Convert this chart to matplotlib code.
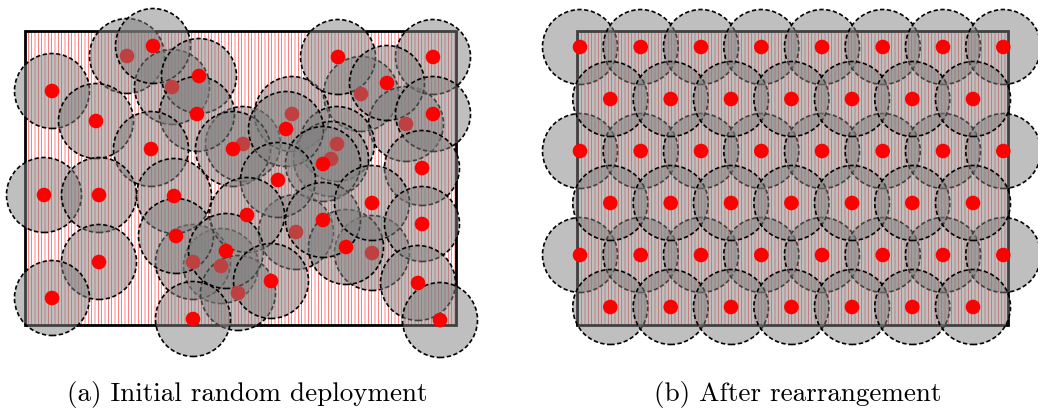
import matplotlib
matplotlib.use("Agg")
import matplotlib.pyplot as plt
from matplotlib.patches import Circle, Rectangle

# ---------------- data (field coordinates) ----------------
FIELD_W = 431.0
FIELD_H = 294.0
SENSE_R = 37.5
DOT_R = 7.3

# (a) initial random deployment: sensors whose node is visible on top
a_top_x = [128, 27, 174, 172, 71, 126, 208, 313, 408, 362, 261, 408, 298, 253, 397,
           19, 74, 149, 222, 151, 201, 74, 27, 168, 321, 246, 298, 347, 397, 393, 415]
a_top_y = [279, 234, 249, 211, 204, 176, 176, 268, 268, 242, 196, 211, 161, 145, 157,
           130, 130, 129, 110, 89, 74, 63, 27, 6, 78, 44, 105, 122, 101, 42, 5]
# sensors whose node is hidden below other coverage discs
a_hid_x = [102, 147, 218, 336, 267, 381, 312, 306, 196, 168, 213, 271, 347]
a_hid_y = [269, 238, 181, 231, 211, 201, 181, 166, 59, 63, 32, 93, 72]

# (b) after rearrangement: hexagonal lattice
b_long_rows_y = [70, 174, 278]
b_long_rows_x = [3.3, 64, 124.3, 184.6, 245.3, 306, 366.3, 426.6]
b_short_rows_y = [18, 122, 226]
b_short_rows_x = [33.6, 94, 154.3, 214.7, 275.3, 335.6, 396.3]

captions = ["(a) Initial random deployment", "(b) After rearrangement"]

# ---------------- style ----------------
DISC_FACE = (0.5, 0.5, 0.5, 0.5)
DOT_RED = "#ff0000"
DOT_HIDDEN = "#bf4040"
DASH = (0, (2.6, 1.5))

plt.rcParams["hatch.linewidth"] = 0.35

W_PX, H_PX = 1038, 412
fig = plt.figure(figsize=(W_PX / 100, H_PX / 100), dpi=100)


def make_axes(col, field_left_px, field_bottom_px):
    ax = fig.add_axes([col * 0.5, 0, 0.5, 1])
    ax.set_xlim(-field_left_px, W_PX / 2 - field_left_px)
    ax.set_ylim(-(H_PX - field_bottom_px), field_bottom_px)
    ax.axis("off")
    # hatched field
    ax.add_patch(Rectangle((0, 0), FIELD_W, FIELD_H, facecolor="white",
                           edgecolor="red", linewidth=0, hatch="|||||", zorder=1))
    ax.add_patch(Rectangle((0, 0), FIELD_W, FIELD_H, fill=False,
                           edgecolor="black", linewidth=2.0, zorder=2))
    return ax


def add_disc(ax, x, y):
    ax.add_patch(Circle((x, y), SENSE_R, facecolor=DISC_FACE, edgecolor="black",
                        linewidth=1.2, linestyle=DASH, zorder=3, clip_on=False))


def add_dot(ax, x, y, color):
    ax.add_patch(Circle((x, y), DOT_R, facecolor=color, edgecolor="none",
                        zorder=5, clip_on=False))


# panel (a)
axa = make_axes(0, 25, 325)
for x, y in zip(a_hid_x, a_hid_y):
    add_disc(axa, x, y)
for x, y in zip(a_top_x, a_top_y):
    add_disc(axa, x, y)
for x, y in zip(a_hid_x, a_hid_y):
    add_dot(axa, x, y, DOT_HIDDEN)
for x, y in zip(a_top_x, a_top_y):
    add_dot(axa, x, y, DOT_RED)

# panel (b)
axb = make_axes(1, 576.7 - W_PX / 2, 325)
b_pts = [(x, y) for y in b_long_rows_y for x in b_long_rows_x] + \
        [(x, y) for y in b_short_rows_y for x in b_short_rows_x]
for x, y in b_pts:
    add_disc(axb, x, y)
for x, y in b_pts:
    add_dot(axb, x, y, DOT_RED)

fig.text(247 / W_PX, 1 - 394 / H_PX, captions[0], family="cmr10", fontsize=19.5,
         ha="center", va="center")
fig.text(798 / W_PX, 1 - 394 / H_PX, captions[1], family="cmr10", fontsize=19.5,
         ha="center", va="center")

fig.savefig("out.png", dpi=100)
